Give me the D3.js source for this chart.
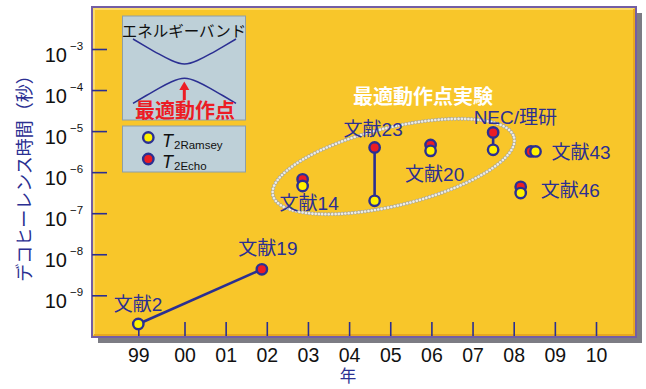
<!DOCTYPE html>
<html>
<head>
<meta charset="utf-8">
<script src="https://cdn.jsdelivr.net/npm/d3@7"></script>
<style>
  body { margin: 0; background: #ffffff; }
  svg { display: block; }
</style>
</head>
<body>
<svg id="chart" width="646" height="389"></svg>
<script>
// ---- data ----
const yearTicks = [1999, 2000, 2001, 2002, 2003, 2004, 2005, 2006, 2007, 2008, 2009, 2010];
const yearTickLabels = ["99", "00", "01", "02", "03", "04", "05", "06", "07", "08", "09", "10"];
const decadeTicks = [1e-3, 1e-4, 1e-5, 1e-6, 1e-7, 1e-8, 1e-9];
const decadeExponents = [-3, -4, -5, -6, -7, -8, -9];

// T2 Ramsey (yellow) measurements
const ramseyRefs  = ["文献2", "文献14", "文献23", "文献20", "NEC/理研", "文献43", "文献46"];
const ramseyYears = [1999.0, 2002.87, 2004.62, 2005.98, 2007.5, 2008.53, 2008.17];
const ramseyT2    = [2.0e-10, 4.6e-7, 2.0e-7, 3.3e-6, 3.5e-6, 3.2e-6, 3.1e-7];

// T2 Echo (red) measurements
const echoRefs  = ["文献19", "文献14", "文献23", "文献20", "NEC/理研", "文献43", "文献46"];
const echoYears = [2001.88, 2002.87, 2004.62, 2005.98, 2007.5, 2008.42, 2008.17];
const echoT2    = [4.3e-9, 6.7e-7, 4.0e-6, 4.6e-6, 9.3e-6, 3.2e-6, 4.4e-7];

// Ramsey point -> Echo point joined by a line
const linkRamsey = ["文献2", "文献23", "NEC/理研"];
const linkEcho   = ["文献19", "文献23", "NEC/理研"];

// Energy-band sketch for the inset (normalised wavevector / energy)
const bandK = [-1, -0.75, -0.5, -0.25, 0, 0.25, 0.5, 0.75, 1];
const bandE = [1, 0.765, 0.535, 0.33, 0.222, 0.33, 0.535, 0.765, 1];

// ---- layout ----
const svg = d3.select("#chart");
const BLUE = "#2b2f92";
const GOLD = "#f8c62a";
const LATIN = "'Liberation Sans', Arial, sans-serif";
const CJK = "'Liberation Sans', 'Noto Sans CJK JP', sans-serif";

const box = { x: 92, y: 7, w: 544, h: 330 };

const x = d3.scaleLinear().domain([1999, 2000, 2010]).range([138.3, 184.5, 596]);
const y = d3.scaleLog().domain([1e-3, 1e-9]).range([49, 295.3]);

// panel shadow + panel
svg.append("rect")
  .attr("x", box.x + 6).attr("y", box.y + 6)
  .attr("width", box.w).attr("height", box.h)
  .attr("fill", "#7c7c84");
svg.append("rect")
  .attr("x", box.x).attr("y", box.y)
  .attr("width", box.w).attr("height", box.h)
  .attr("fill", GOLD);
// bevel edges
svg.append("path")
  .attr("d", `M${box.x + 2},${box.y + box.h - 2}V${box.y + 2}H${box.x + box.w - 2}`)
  .attr("fill", "none").attr("stroke", "#fbdc6a").attr("stroke-width", 2);
svg.append("path")
  .attr("d", `M${box.x + 2},${box.y + box.h - 2}H${box.x + box.w - 2}V${box.y + 2}`)
  .attr("fill", "none").attr("stroke", "#e6a820").attr("stroke-width", 2);
svg.append("rect")
  .attr("x", box.x).attr("y", box.y)
  .attr("width", box.w).attr("height", box.h)
  .attr("fill", "none").attr("stroke", "#735ea4").attr("stroke-width", 2);

// ---- y axis (log decades, ticks inward) ----
const gY = svg.append("g")
  .attr("transform", `translate(${box.x},0)`)
  .call(d3.axisLeft(y).tickValues(decadeTicks).tickSizeInner(-15).tickSizeOuter(0).tickFormat(() => ""));
gY.select(".domain").remove();
gY.selectAll(".tick line").attr("stroke", BLUE).attr("stroke-width", 1.6);
gY.selectAll(".tick text").remove();
gY.selectAll(".tick").each(function(d, i) {
  const t = d3.select(this);
  t.append("text")
    .attr("x", -25).attr("y", 12)
    .attr("text-anchor", "end")
    .attr("font-family", LATIN).attr("font-size", 20)
    .attr("fill", "#111").text("10");
  t.append("text")
    .attr("x", -22).attr("y", 0.5)
    .attr("text-anchor", "start")
    .attr("font-family", LATIN).attr("font-size", 11.5)
    .attr("fill", "#111").text("\u2212" + Math.abs(decadeExponents[i]));
});

// ---- x axis (years, ticks inward) ----
const gX = svg.append("g")
  .attr("transform", `translate(0,${box.y + box.h - 1})`)
  .call(d3.axisBottom(x).tickValues(yearTicks).tickSizeInner(-14).tickSizeOuter(0)
    .tickFormat((d, i) => yearTickLabels[i]));
gX.select(".domain").remove();
gX.selectAll(".tick line").attr("stroke", BLUE).attr("stroke-width", 1.6);
gX.selectAll(".tick text")
  .attr("y", 26).attr("dy", 0)
  .attr("font-family", LATIN).attr("font-size", 19.5)
  .attr("fill", "#111");

// axis titles
svg.append("text")
  .attr("transform", "translate(31,174) rotate(-90)")
  .attr("text-anchor", "middle")
  .attr("font-family", "'Noto Sans CJK JP', sans-serif").attr("font-size", 18)
  .attr("fill", BLUE).text("デコヒーレンス時間（秒）");
svg.append("text")
  .attr("x", 348).attr("y", 382)
  .attr("text-anchor", "middle")
  .attr("font-family", CJK).attr("font-size", 16.5)
  .attr("fill", BLUE).text("年");

// ---- dotted ellipse around the optimal-operating-point experiments ----
svg.append("ellipse")
  .attr("transform", "translate(393.5,166.5) rotate(-13.5)")
  .attr("rx", 124).attr("ry", 39)
  .attr("fill", "none")
  .attr("stroke", "#a9a79c").attr("stroke-width", 3.8)
  .attr("stroke-dasharray", "0 3.3").attr("stroke-linecap", "round");
svg.append("ellipse")
  .attr("transform", "translate(393.5,166.5) rotate(-13.5)")
  .attr("rx", 124).attr("ry", 39)
  .attr("fill", "none")
  .attr("stroke", "#eeede6").attr("stroke-width", 2.6)
  .attr("stroke-dasharray", "0 3.3").attr("stroke-linecap", "round");

svg.append("text")
  .attr("x", 353).attr("y", 104)
  .attr("font-family", "'Noto Sans CJK JP', sans-serif").attr("font-size", 20)
  .attr("font-weight", "bold")
  .attr("fill", "#ffffff").text("最適動作点実験");

// ---- points ----
const ramsey = ramseyRefs.map((r, i) => ({ ref: r, year: ramseyYears[i], t2: ramseyT2[i] }));
const echo = echoRefs.map((r, i) => ({ ref: r, year: echoYears[i], t2: echoT2[i] }));

const gLinks = svg.append("g");
linkRamsey.forEach((r, i) => {
  const a = ramsey.find(d => d.ref === r);
  const b = echo.find(d => d.ref === linkEcho[i]);
  gLinks.append("line")
    .attr("x1", x(a.year)).attr("y1", y(a.t2))
    .attr("x2", x(b.year)).attr("y2", y(b.t2))
    .attr("stroke", BLUE).attr("stroke-width", 2.6);
});

const R = 5.2;
svg.append("g").selectAll("circle").data(echo).join("circle")
  .attr("cx", d => x(d.year)).attr("cy", d => y(d.t2)).attr("r", R)
  .attr("fill", "#ec1c24").attr("stroke", BLUE).attr("stroke-width", 2.4);
svg.append("g").selectAll("circle").data(ramsey).join("circle")
  .attr("cx", d => x(d.year)).attr("cy", d => y(d.t2)).attr("r", R)
  .attr("fill", "#fff200").attr("stroke", BLUE).attr("stroke-width", 2.4);

// reference labels: offset of the label's left/baseline from its anchor point
const labelSpots = {
  "文献2":    { src: "ramsey", dx: -24.5, dy: -13 },
  "文献19":   { src: "echo",   dx: -23.5, dy: -14 },
  "文献14":   { src: "ramsey", dx: -23,   dy: 24 },
  "文献23":   { src: "echo",   dx: -31,   dy: -11.5 },
  "文献20":   { src: "ramsey", dx: -25.5, dy: 30 },
  "NEC/理研": { src: "echo",   dx: -19.5, dy: -8.5 },
  "文献43":   { src: "ramsey", dx: 16,    dy: 7.5 },
  "文献46":   { src: "echo",   dx: 20,    dy: 10.5 }
};
const gLabels = svg.append("g");
Object.entries(labelSpots).forEach(([ref, s]) => {
  const p = (s.src === "ramsey" ? ramsey : echo).find(d => d.ref === ref);
  gLabels.append("text")
    .attr("x", x(p.year) + s.dx).attr("y", y(p.t2) + s.dy)
    .attr("font-family", CJK).attr("font-size", 19)
    .attr("fill", BLUE).text(ref);
});

// ---- inset: energy band sketch ----
const inset = svg.append("g");
inset.append("rect")
  .attr("x", 122.5).attr("y", 16).attr("width", 123).attr("height", 104)
  .attr("fill", "#bed0d8").attr("stroke", "#8e9ea6").attr("stroke-width", 1);
inset.append("text")
  .attr("x", 184).attr("y", 37).attr("text-anchor", "middle")
  .attr("font-family", "'Noto Sans CJK JP', sans-serif").attr("font-size", 15.5)
  .attr("fill", "#111").text("エネルギーバンド");
const kx = d3.scaleLinear().domain([-1, 1]).range([133, 236]);
const ey = d3.scaleLinear().domain([-1, 1]).range([103.3, 39]);
const bandLine = d3.line().x(d => kx(d[0])).y(d => ey(d[1])).curve(d3.curveNatural);
const upper = bandK.map((k, i) => [k, bandE[i]]);
const lower = bandK.map((k, i) => [k, -bandE[i]]);
[upper, lower].forEach(b => inset.append("path")
  .attr("d", bandLine(b)).attr("fill", "none")
  .attr("stroke", BLUE).attr("stroke-width", 1.5));
// arrow to the optimal point
inset.append("line")
  .attr("x1", 184.3).attr("y1", 100).attr("x2", 184.3).attr("y2", 88)
  .attr("stroke", "#ec1c24").attr("stroke-width", 3);
inset.append("path")
  .attr("d", "M184.3,81.5L179.3,90L189.3,90Z").attr("fill", "#ec1c24");
inset.append("text")
  .attr("x", 185).attr("y", 118).attr("text-anchor", "middle")
  .attr("font-family", "'Noto Sans CJK JP', sans-serif").attr("font-size", 20)
  .attr("font-weight", "bold")
  .attr("fill", "#ec1c24").text("最適動作点");

// ---- legend ----
const legend = svg.append("g");
legend.append("rect")
  .attr("x", 122.5).attr("y", 126).attr("width", 123).attr("height", 46)
  .attr("fill", "#bed0d8").attr("stroke", "#8e9ea6").attr("stroke-width", 1);
const legendItems = [
  { fill: "#fff200", sub: "2Ramsey", cy: 137.5 },
  { fill: "#ec1c24", sub: "2Echo", cy: 159 }
];
legendItems.forEach(it => {
  legend.append("circle")
    .attr("cx", 148.3).attr("cy", it.cy).attr("r", R)
    .attr("fill", it.fill).attr("stroke", BLUE).attr("stroke-width", 2.4);
  const t = legend.append("text")
    .attr("x", 162).attr("y", it.cy + 9)
    .attr("font-family", LATIN).attr("fill", "#111");
  t.append("tspan").attr("font-size", 18).attr("font-style", "italic").text("T");
  t.append("tspan").attr("font-size", 11.5).attr("dx", 1).attr("dy", 2).text(it.sub);
});
</script>
</body>
</html>
